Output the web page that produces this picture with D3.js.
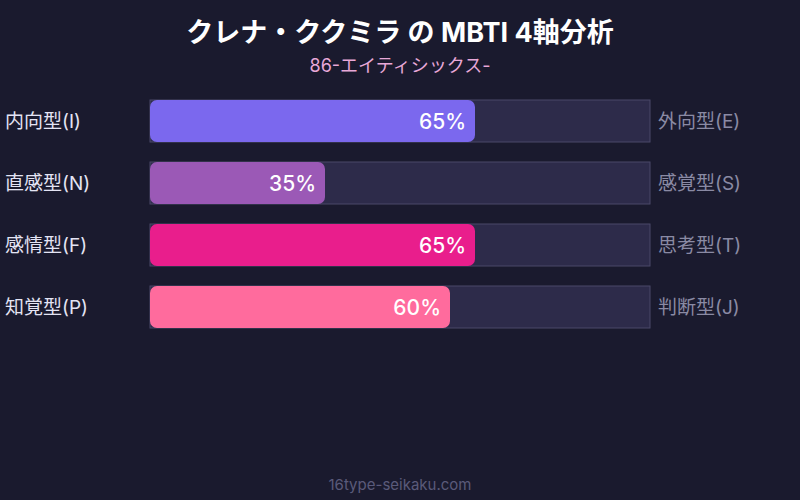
<!DOCTYPE html>
<html>
<head>
<meta charset="utf-8">
<script src="https://cdn.jsdelivr.net/npm/d3@7"></script>
<style>
  html, body { margin: 0; padding: 0; background: #1a1a2e; }
  svg text { font-family: Inter, "Noto Sans CJK JP", sans-serif; }
</style>
</head>
<body>
<div id="chart"></div>
<script>
// chart data
var axes = ["EI", "SN", "TF", "JP"];
var leftLabels = ["内向型(I)", "直感型(N)", "感情型(F)", "知覚型(P)"];
var rightLabels = ["外向型(E)", "感覚型(S)", "思考型(T)", "判断型(J)"];
var percents = [65, 35, 65, 60];
var barColors = ["#7b68ee", "#9b59b6", "#e91e8c", "#ff6b9d"];

var titleStr = "クレナ・ククミラ の MBTI 4軸分析";
var subtitleStr = "86-エイティシックス-";
var footerStr = "16type-seikaku.com";

var width = 800, height = 500;
var margin = {top: 100, left: 150, right: 150};
var rowStep = 62, barH = 42;

var svg = d3.select("#chart")
  .append("svg")
    .attr("width", width)
    .attr("height", height);

svg.append("rect")
  .attr("width", width)
  .attr("height", height)
  .attr("fill", "#1a1a2e");

// scales
var x = d3.scaleLinear()
  .domain([0, 100])
  .range([margin.left, width - margin.right]);

var y = d3.scaleBand()
  .domain(axes)
  .range([margin.top, margin.top + rowStep * axes.length - (rowStep - barH)])
  .paddingInner((rowStep - barH) / rowStep)
  .paddingOuter(0);

var bh = y.bandwidth();

// titles
svg.append("text")
  .attr("x", width / 2)
  .attr("y", 42)
  .attr("text-anchor", "middle")
  .attr("fill", "#ffffff")
  .attr("font-size", "27px")
  .attr("font-weight", "bold")
  .text(titleStr);

svg.append("text")
  .attr("x", width / 2)
  .attr("y", 72)
  .attr("text-anchor", "middle")
  .attr("fill", "#e8a8d8")
  .attr("font-size", "18px")
  .text(subtitleStr);

var rows = svg.selectAll("g.row")
  .data(axes)
  .enter()
  .append("g")
    .attr("class", "row");

// background tracks
rows.append("rect")
  .attr("x", x(0))
  .attr("y", function(d) { return y(d); })
  .attr("width", x(100) - x(0))
  .attr("height", bh)
  .attr("fill", "#2d2b4a")
  .attr("stroke", "#4a4868")
  .attr("stroke-width", 1);

// value bars
rows.append("rect")
  .attr("x", x(0))
  .attr("y", function(d) { return y(d); })
  .attr("width", function(d, i) { return x(percents[i]) - x(0); })
  .attr("height", bh)
  .attr("rx", 7)
  .attr("ry", 7)
  .attr("fill", function(d, i) { return barColors[i]; });

// percent labels
rows.append("text")
  .attr("x", function(d, i) { return x(percents[i]) - 9; })
  .attr("y", function(d) { return y(d) + bh / 2; })
  .attr("dy", "0.36em")
  .attr("text-anchor", "end")
  .attr("fill", "#ffffff")
  .attr("font-size", "21px")
  .attr("font-weight", "500")
  .text(function(d, i) { return percents[i] + "%"; });

// side labels
rows.append("text")
  .attr("x", 5)
  .attr("y", function(d) { return y(d) + bh / 2; })
  .attr("dy", "0.36em")
  .attr("fill", "#e4e4f4")
  .attr("font-size", "19px")
  .text(function(d, i) { return leftLabels[i]; });

rows.append("text")
  .attr("x", x(100) + 8)
  .attr("y", function(d) { return y(d) + bh / 2; })
  .attr("dy", "0.36em")
  .attr("fill", "#8a8aa4")
  .attr("font-size", "19px")
  .text(function(d, i) { return rightLabels[i]; });

svg.append("text")
  .attr("x", width / 2)
  .attr("y", 490)
  .attr("text-anchor", "middle")
  .attr("fill", "#5a5a7a")
  .attr("font-size", "15px")
  .text(footerStr);
</script>
</body>
</html>
